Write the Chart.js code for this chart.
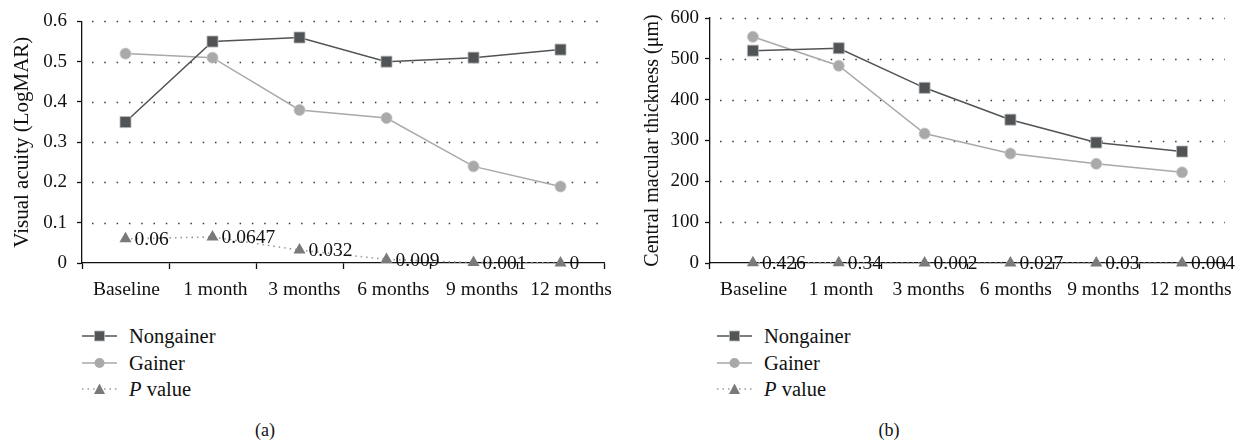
<!DOCTYPE html>
<html>
<head>
<meta charset="utf-8">
<script src="https://cdn.jsdelivr.net/npm/chart.js@4.4.1/dist/chart.umd.min.js"></script>
<style>
  html, body { margin: 0; padding: 0; background: #fff; }
  body { width: 1248px; height: 445px; position: relative; overflow: hidden; font-family: 'Liberation Serif', 'DejaVu Serif', serif; color: #111; }
  canvas { position: absolute; top: 0; }
  .legend { position: absolute; top: 323px; font-size: 20.5px; line-height: 26.5px; }
  .legend div { display: flex; align-items: center; height: 26.5px; }
  .legend svg { margin-right: 12px; }
  .panel { position: absolute; top: 420px; font-size: 18px; width: 40px; text-align: center; }
</style>
</head>
<body>
<canvas id="chartA" width="620" height="310" style="left:0px"></canvas>
<canvas id="chartB" width="620" height="310" style="left:620px"></canvas>

<div class="legend" id="legendA" style="left:82px"></div>
<div class="legend" id="legendB" style="left:717px"></div>
<div class="panel" style="left:245px">(a)</div>
<div class="panel" style="left:869px">(b)</div>

<script>
// ---- data ----
const categories = ['Baseline', '1 month', '3 months', '6 months', '9 months', '12 months'];
const seriesNames = ['Nongainer', 'Gainer', 'P value'];

const vaNongainer = [0.35, 0.55, 0.56, 0.50, 0.51, 0.53];
const vaGainer    = [0.52, 0.51, 0.38, 0.36, 0.24, 0.19];
const vaPValue    = [0.06, 0.0647, 0.032, 0.009, 0.001, 0];

const cmtNongainer = [520, 526, 429, 351, 295, 273];
const cmtGainer    = [554, 483, 317, 268, 243, 222];
const cmtPValue    = [0.426, 0.34, 0.002, 0.027, 0.03, 0.004];

const vaTickLabels  = ['0', '0.1', '0.2', '0.3', '0.4', '0.5', '0.6'];
const cmtTickLabels = ['0', '100', '200', '300', '400', '500', '600'];

// ---- styles ----
const FONT = "'Liberation Serif', 'DejaVu Serif', serif";
const C_NON = '#505456';
const C_GAIN = '#a9a9a9';
const C_P = '#7a7a7a';

const dottedGrid = {
  id: 'dottedGrid',
  beforeDatasetsDraw(chart) {
    const { ctx, chartArea } = chart;
    const y = chart.scales.y;
    ctx.save();
    ctx.strokeStyle = '#3a3a3a';
    ctx.lineWidth = 1.5;
    ctx.setLineDash([1.5, 10.8]);
    y.ticks.forEach((t) => {
      if (t.value === y.min) return;
      const py = Math.round(y.getPixelForValue(t.value)) + 0.5;
      ctx.beginPath();
      ctx.moveTo(chartArea.left + 10, py);
      ctx.lineTo(chartArea.right, py);
      ctx.stroke();
    });
    ctx.restore();
  }
};

// P-value annotations next to the triangle markers
const pLabels = {
  id: 'pLabels',
  afterDatasetsDraw(chart) {
    const { ctx } = chart;
    const idx = chart.data.datasets.findIndex(d => d.label === 'P value');
    const meta = chart.getDatasetMeta(idx);
    const data = chart.data.datasets[idx].data;
    ctx.save();
    ctx.font = '19.5px ' + FONT;
    ctx.fillStyle = '#111';
    ctx.textAlign = 'left';
    ctx.textBaseline = 'middle';
    meta.data.forEach((pt, i) => {
      ctx.fillText(String(data[i]), pt.x + 9, pt.y + 1);
    });
    ctx.restore();
  }
};

// category labels: in the original they drift slightly right of the category centres
const spreadLabels = {
  id: 'spreadLabels',
  afterDraw(chart, args, opts) {
    const { ctx, chartArea } = chart;
    const x = chart.scales.x;
    ctx.save();
    ctx.font = '19.5px ' + FONT;
    ctx.fillStyle = '#111';
    ctx.textAlign = 'center';
    ctx.textBaseline = 'middle';
    chart.data.labels.forEach((lab, i) => {
      const p = x.getPixelForValue(i);
      const lx = chartArea.left + opts.k * (p - chartArea.left);
      ctx.fillText(lab, lx, chartArea.bottom + 27);
    });
    ctx.restore();
  }
};

function makeChart(id, nonData, gainData, pData, max, step, tickLabels, title, titleSize, yWidth, tickPad, titlePad, rightPad, sp) {
  return new Chart(document.getElementById(id), {
    type: 'line',
    data: {
      labels: categories,
      datasets: [
        { label: seriesNames[2], data: pData, borderColor: '#999999', borderWidth: 1.6, borderDash: [1.5, 4],
          pointStyle: 'triangle', pointRadius: 7, pointBackgroundColor: C_P, pointBorderColor: C_P, pointBorderWidth: 0,
          order: 3, tension: 0, clip: false },
        { label: seriesNames[1], data: gainData, borderColor: C_GAIN, borderWidth: 1.5,
          pointStyle: 'circle', pointRadius: 5.5, pointBackgroundColor: C_GAIN, pointBorderColor: '#c4c4c4', pointBorderWidth: 0.8,
          order: 2, tension: 0, clip: false },
        { label: seriesNames[0], data: nonData, borderColor: C_NON, borderWidth: 1.5,
          pointStyle: 'rect', pointRadius: 7.8, pointBackgroundColor: C_NON, pointBorderColor: '#b8b8b8', pointBorderWidth: 0.8,
          order: 1, tension: 0, clip: false }
      ]
    },
    options: {
      responsive: false,
      animation: false,
      events: [],
      layout: { padding: { top: 18, right: rightPad, left: 0, bottom: 0 } },
      plugins: { legend: { display: false }, tooltip: { enabled: false }, spreadLabels: sp },
      scales: {
        x: {
          offset: true,
          grid: { display: true, offset: true, drawOnChartArea: false, drawTicks: true, tickLength: 6, tickColor: '#111', tickWidth: 1.3 },
          border: { display: true, color: '#111', width: 1.3 },
          ticks: { display: false },
          afterFit(s) { s.height = 47; }
        },
        y: {
          min: 0, max: max,
          grid: { display: true, drawOnChartArea: false, drawTicks: true, tickLength: 5, tickColor: '#111', tickWidth: 1.3 },
          border: { display: true, color: '#111', width: 1.3 },
          ticks: { stepSize: step, font: { family: FONT, size: 19 }, color: '#111', padding: tickPad,
                   callback: (v, i) => tickLabels[i] },
          title: { display: true, text: title, font: { family: FONT, size: titleSize }, color: '#111', padding: { top: titlePad, bottom: 0 } },
          afterFit(s) { s.width = yWidth; }
        }
      }
    },
    plugins: [dottedGrid, pLabels, spreadLabels]
  });
}

makeChart('chartA', vaNongainer, vaGainer, vaPValue, 0.6, 0.1, vaTickLabels, 'Visual acuity (LogMAR)', 21, 82, 10, 10, 16, { k: 1.022 });
makeChart('chartB', cmtNongainer, cmtGainer, cmtPValue, 600, 100, cmtTickLabels, 'Central macular thickness (\u03bcm)', 20, 90, 6, 21, 15, { k: 1.018 });

// ---- legends ----
function sym(kind) {
  if (kind === 0) return `<svg width="35" height="14"><line x1="0" y1="7" x2="35" y2="7" stroke="${C_NON}" stroke-width="1.6"/><rect x="12.5" y="2" width="10" height="10" fill="${C_NON}" stroke="#b8b8b8" stroke-width="0.8"/></svg>`;
  if (kind === 1) return `<svg width="35" height="14"><line x1="0" y1="7" x2="35" y2="7" stroke="${C_GAIN}" stroke-width="1.6"/><circle cx="17.5" cy="7" r="5" fill="${C_GAIN}"/></svg>`;
  return `<svg width="35" height="14"><line x1="0" y1="7" x2="35" y2="7" stroke="#999" stroke-width="1.5" stroke-dasharray="1.5 4"/><polygon points="17.5,1.5 23,12 12,12" fill="${C_P}"/></svg>`;
}
function legendHTML() {
  return [0, 1, 2].map(k => {
    const name = seriesNames[k];
    const txt = name === 'P value' ? '<i>P</i> value' : name;
    return `<div>${sym(k)}<span>${txt}</span></div>`;
  }).join('');
}
document.getElementById('legendA').innerHTML = legendHTML();
document.getElementById('legendB').innerHTML = legendHTML();
</script>
</body>
</html>
